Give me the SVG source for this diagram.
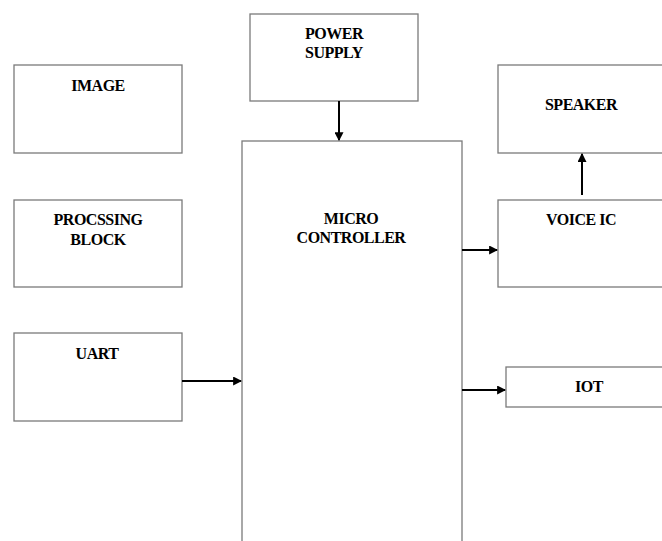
<svg xmlns="http://www.w3.org/2000/svg" width="662" height="541" viewBox="0 0 662 541">
<style>
.box{fill:#fff;stroke:#7a7a7a;stroke-width:1.3}
.t{font-family:"Liberation Serif","Times New Roman",serif;font-weight:bold;font-size:16px;letter-spacing:-0.5px;fill:#000;text-anchor:middle}
.c{stroke:#000;stroke-width:2;fill:none;marker-end:url(#ah)}
</style>
<defs>
<marker id="ah" viewBox="0 0 8 8" refX="7" refY="4" markerWidth="4.5" markerHeight="4.5" orient="auto" markerUnits="strokeWidth">
<path d="M0,0 L8,4 L0,8 Z" fill="#000"/>
</marker>
</defs>
<rect width="662" height="541" fill="#fff"/>
<g id="image"><rect class="box" x="14" y="65" width="168" height="88"/><text class="t" x="98" y="91">IMAGE</text></g>
<g id="processing"><rect class="box" x="14" y="200" width="168" height="87"/><text class="t" x="98" y="225">PROCSSING</text><text class="t" x="98" y="245">BLOCK</text></g>
<g id="uart"><rect class="box" x="14" y="333" width="168" height="88"/><text class="t" x="97" y="359">UART</text></g>
<g id="power"><rect class="box" x="250" y="14" width="168" height="87"/><text class="t" x="334" y="39">POWER</text><text class="t" x="334" y="58">SUPPLY</text></g>
<g id="micro"><rect class="box" x="242" y="141" width="220" height="420"/><text class="t" x="351" y="224">MICRO</text><text class="t" x="351" y="243">CONTROLLER</text></g>
<g id="speaker"><rect class="box" x="498" y="65" width="180" height="88"/><text class="t" x="581" y="110">SPEAKER</text></g>
<g id="voice"><rect class="box" x="498" y="200" width="180" height="87"/><text class="t" x="581" y="225">VOICE IC</text></g>
<g id="iot"><rect class="box" x="506" y="367" width="170" height="40"/><text class="t" x="589" y="392">IOT</text></g>
<g id="connectors">
<line class="c" x1="339" y1="101" x2="339" y2="140"/>
<line class="c" x1="182" y1="381" x2="241" y2="381"/>
<line class="c" x1="462" y1="250" x2="497" y2="250"/>
<line class="c" x1="582" y1="195" x2="582" y2="154"/>
<line class="c" x1="462" y1="390" x2="505" y2="390"/>
</g>
</svg>
